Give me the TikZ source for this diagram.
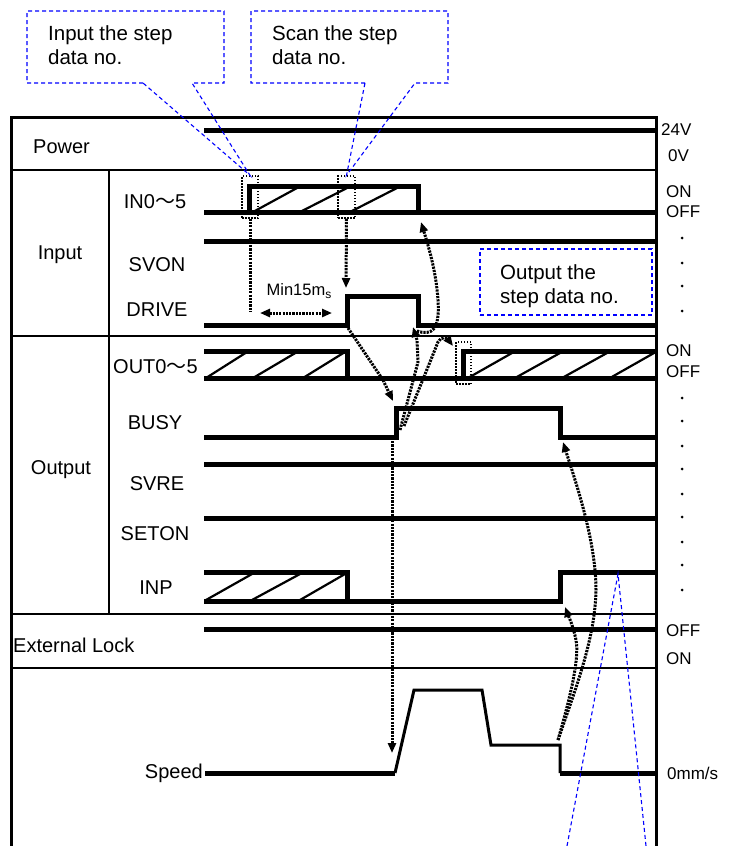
\documentclass[tikz,border=0pt]{standalone}
\usepackage{fontspec}
\setmainfont{Liberation Sans}
\newfontfamily\cjk{Noto Sans CJK JP}
\usetikzlibrary{arrows.meta}
\begin{document}
\begin{tikzpicture}[x=1pt,y=-1pt,
  frame/.style={line width=3pt},
  sepline/.style={line width=2.5pt},
  sig/.style={line width=5pt,line cap=butt,line join=miter},
  spd/.style={line width=3pt,line join=miter},
  hatchline/.style={line width=2.2pt},
  dotline/.style={line width=3pt,dash pattern=on 2.2pt off 1.1pt},
  tipend/.style={-{Triangle[length=10pt,width=8pt]}},
  edgebox/.style={draw,line width=1.3pt,dash pattern=on 1.5pt off 1.5pt},
  callout/.style={draw=blue,line width=1.1pt,dash pattern=on 4pt off 3pt},
  lbl/.style={font=\fontsize{20}{22}\selectfont,inner sep=0pt},
  rlbl/.style={font=\fontsize{17}{19}\selectfont,inner sep=0pt,anchor=west},
  ctext/.style={font=\fontsize{20.5}{24}\selectfont,inner sep=0pt,align=left,anchor=north west},
  dotmark/.style={fill=black}]
\useasboundingbox (0,0) rectangle (744,846);

% ---------- table frame ----------
\draw[frame] (11,846) -- (11,117) -- (656,117) -- (656,846);
\draw[sepline] (11,170) -- (656,170);
\draw[sepline] (11,336) -- (656,336);
\draw[sepline] (11,614) -- (656,614);
\draw[sepline] (11,668) -- (656,668);
\draw[sepline] (109,170) -- (109,614);

% ---------- left labels ----------
\node[lbl,anchor=west] (lpower) at (33,147) {Power};
\node[lbl] (linput) at (60,255) {Input};
\node[lbl] (loutput) at (61,470) {Output};
\node[lbl,anchor=west] (lext) at (13,645) {External Lock};
\node[lbl] (lin) at (155,202) {IN0{\cjk ～}5};
\node[lbl] (lsvon) at (157,265) {SVON};
\node[lbl] (ldrive) at (157,310) {DRIVE};
\node[lbl,anchor=west] (lout) at (113,367) {OUT0{\cjk ～}5};
\node[lbl] (lbusy) at (155,423) {BUSY};
\node[lbl] (lsvre) at (157,484) {SVRE};
\node[lbl] (lseton) at (155,534) {SETON};
\node[lbl] (linp) at (156,588) {INP};
\node[lbl,anchor=east] (lspeed) at (203,773) {Speed};

% ---------- right labels ----------
\node[rlbl] (r24) at (661,130) {24V};
\node[rlbl] (r0) at (668,156) {0V};
\node[rlbl] (ron1) at (666,192) {ON};
\node[rlbl] (roff1) at (666,212) {OFF};
\node[rlbl] (ron2) at (666,351) {ON};
\node[rlbl] (roff2) at (666,372) {OFF};
\node[rlbl] (roff3) at (666,631) {OFF};
\node[rlbl] (ron3) at (666,659) {ON};
\node[rlbl] (rmm) at (667,773) {0mm/s};
\foreach \yy in {238,263,286,311,398,421,446,469,494,517,542,565,590}
  \fill[dotmark] (682,\yy) circle (1.5);

% ---------- signals ----------
% Power
\draw[sig] (204,130) -- (656,130);
% IN0-5
\draw[sig] (204,212) -- (656,212);
\draw[sig] (249,212) -- (249,186) -- (418,186) -- (418,212);
\draw[hatchline] (253,212) -- (297,188) (300,212) -- (347,188) (350,212) -- (397,188);
% SVON
\draw[sig] (204,241) -- (656,241);
% DRIVE
\draw[sig] (204,325) -- (347,325) -- (347,296) -- (418,296) -- (418,325) -- (656,325);
% OUT0-5
\draw[sig] (204,378) -- (656,378);
\draw[sig] (204,351) -- (347,351) -- (347,381);
\draw[hatchline] (206,378) -- (247,352) (253,378) -- (297,352) (303,378) -- (345,352);
\draw[sig] (463,378) -- (463,351) -- (656,351);
\draw[hatchline] (468,378) -- (512,353) (515,378) -- (560,353) (562,378) -- (607,353) (610,378) -- (654,353);
% BUSY
\draw[sig] (204,437) -- (396,437) -- (396,408) -- (560,408) -- (560,437) -- (656,437);
% SVRE
\draw[sig] (204,464) -- (656,464);
% SETON
\draw[sig] (204,518) -- (656,518);
% INP
\draw[sig] (204,572) -- (347,572) -- (347,601);
\draw[sig] (204,601) -- (560,601) -- (560,572) -- (656,572);
\draw[hatchline] (206,600) -- (252,574) (252,600) -- (300,574) (300,600) -- (345,574);
% External lock
\draw[sig] (204,629) -- (656,629);
% Speed
\draw[sig] (205,773) -- (395,773);
\draw[spd] (395,773) -- (414,690) -- (482,690) -- (491,745) -- (560,745) -- (560,773);
\draw[sig] (560,773) -- (656,773);

% ---------- edge marks ----------
\node[edgebox,minimum width=16pt,minimum height=42pt,inner sep=0pt] (m1) at (250,197) {};
\node[edgebox,minimum width=17pt,minimum height=42pt,inner sep=0pt] (m2) at (346.5,197) {};
\node[edgebox,minimum width=15pt,minimum height=42pt,inner sep=0pt] (m3) at (463.5,363) {};

% ---------- named timing points ----------
\coordinate (fEnd) at (250,312);
\coordinate (minL) at (260,313);
\coordinate (minR) at (332,313);
\coordinate (drvHi) at (346,288);
\coordinate (drvRise) at (348,328);
\coordinate (busyRiseTop) at (393,401);
\coordinate (busyRiseA) at (400,430);
\coordinate (busyRiseB) at (404,426);
\coordinate (busyRiseC) at (392,441);
\coordinate (drvFall) at (413,327);
\coordinate (drvFallS) at (417,331);
\coordinate (inFall) at (421,222);
\coordinate (outRise) at (453,346);
\coordinate (spdStart) at (392,753);
\coordinate (spdDec) at (558,740);
\coordinate (busyFall) at (563,442);
\coordinate (inpRise) at (565,607);

% ---------- dotted cause arrows ----------
\draw[dotline] (m1.south) -- (fEnd);
\draw[dotline,{Triangle[length=10pt,width=8pt]}-{Triangle[length=10pt,width=8pt]}] (minL) -- (minR);
\node[font=\fontsize{16.5}{18}\selectfont,inner sep=0pt] (minlbl) at (299,291) {Min15m\raisebox{-0.35ex}{\fontsize{12}{13}\selectfont s}};
\draw[dotline,tipend] (m2.south) -- (drvHi);
\draw[dotline,tipend] (drvRise) -- (383,380) -- (busyRiseTop);
\draw[dotline,tipend] (busyRiseA) -- (418,362) -- (417,340) -- (drvFall);
\draw[dotline,tipend] (drvFallS) .. controls (432,336) and (440,330) .. (438,300) .. controls (436,270) and (428,245) .. (inFall);
\draw[dotline,tipend] (busyRiseB) -- (430,362) -- (438,342) .. controls (441,336) and (447,338) .. (outRise);
\draw[dotline,tipend] (busyRiseC) -- (spdStart);
\draw[dotline,tipend] (spdDec) .. controls (575,690) and (595,640) .. (596,590) .. controls (596,540) and (575,480) .. (busyFall);
\draw[dotline,tipend] (spdDec) .. controls (568,705) and (580,660) .. (576,640) .. controls (573,625) and (568,615) .. (inpRise);

% ---------- callouts ----------
\draw[callout] (143,83) -- (27,83) -- (27,11) -- (224,11) -- (224,83) -- (192,83) -- (m1.north) -- cycle;
\node[ctext] (c1) at (48,25) {Input the step\\data no.};
\draw[callout] (365,83) -- (251,83) -- (251,11) -- (448,11) -- (448,83) -- (415,83) -- (m2.north) -- cycle;
\node[ctext] (c2) at (272,25) {Scan the step\\data no.};
\node[callout,minimum width=172pt,minimum height=66pt,inner sep=0pt] (c3box) at (566,282) {};
\node[ctext] (c3) at (500,264) {Output the\\step data no.};
\coordinate (c3tip) at (618,574);
\coordinate (c3a) at (567,846);
\coordinate (c3b) at (646,846);
\draw[callout] (c3a) -- (c3tip) -- (c3b);
\end{tikzpicture}
\end{document}
